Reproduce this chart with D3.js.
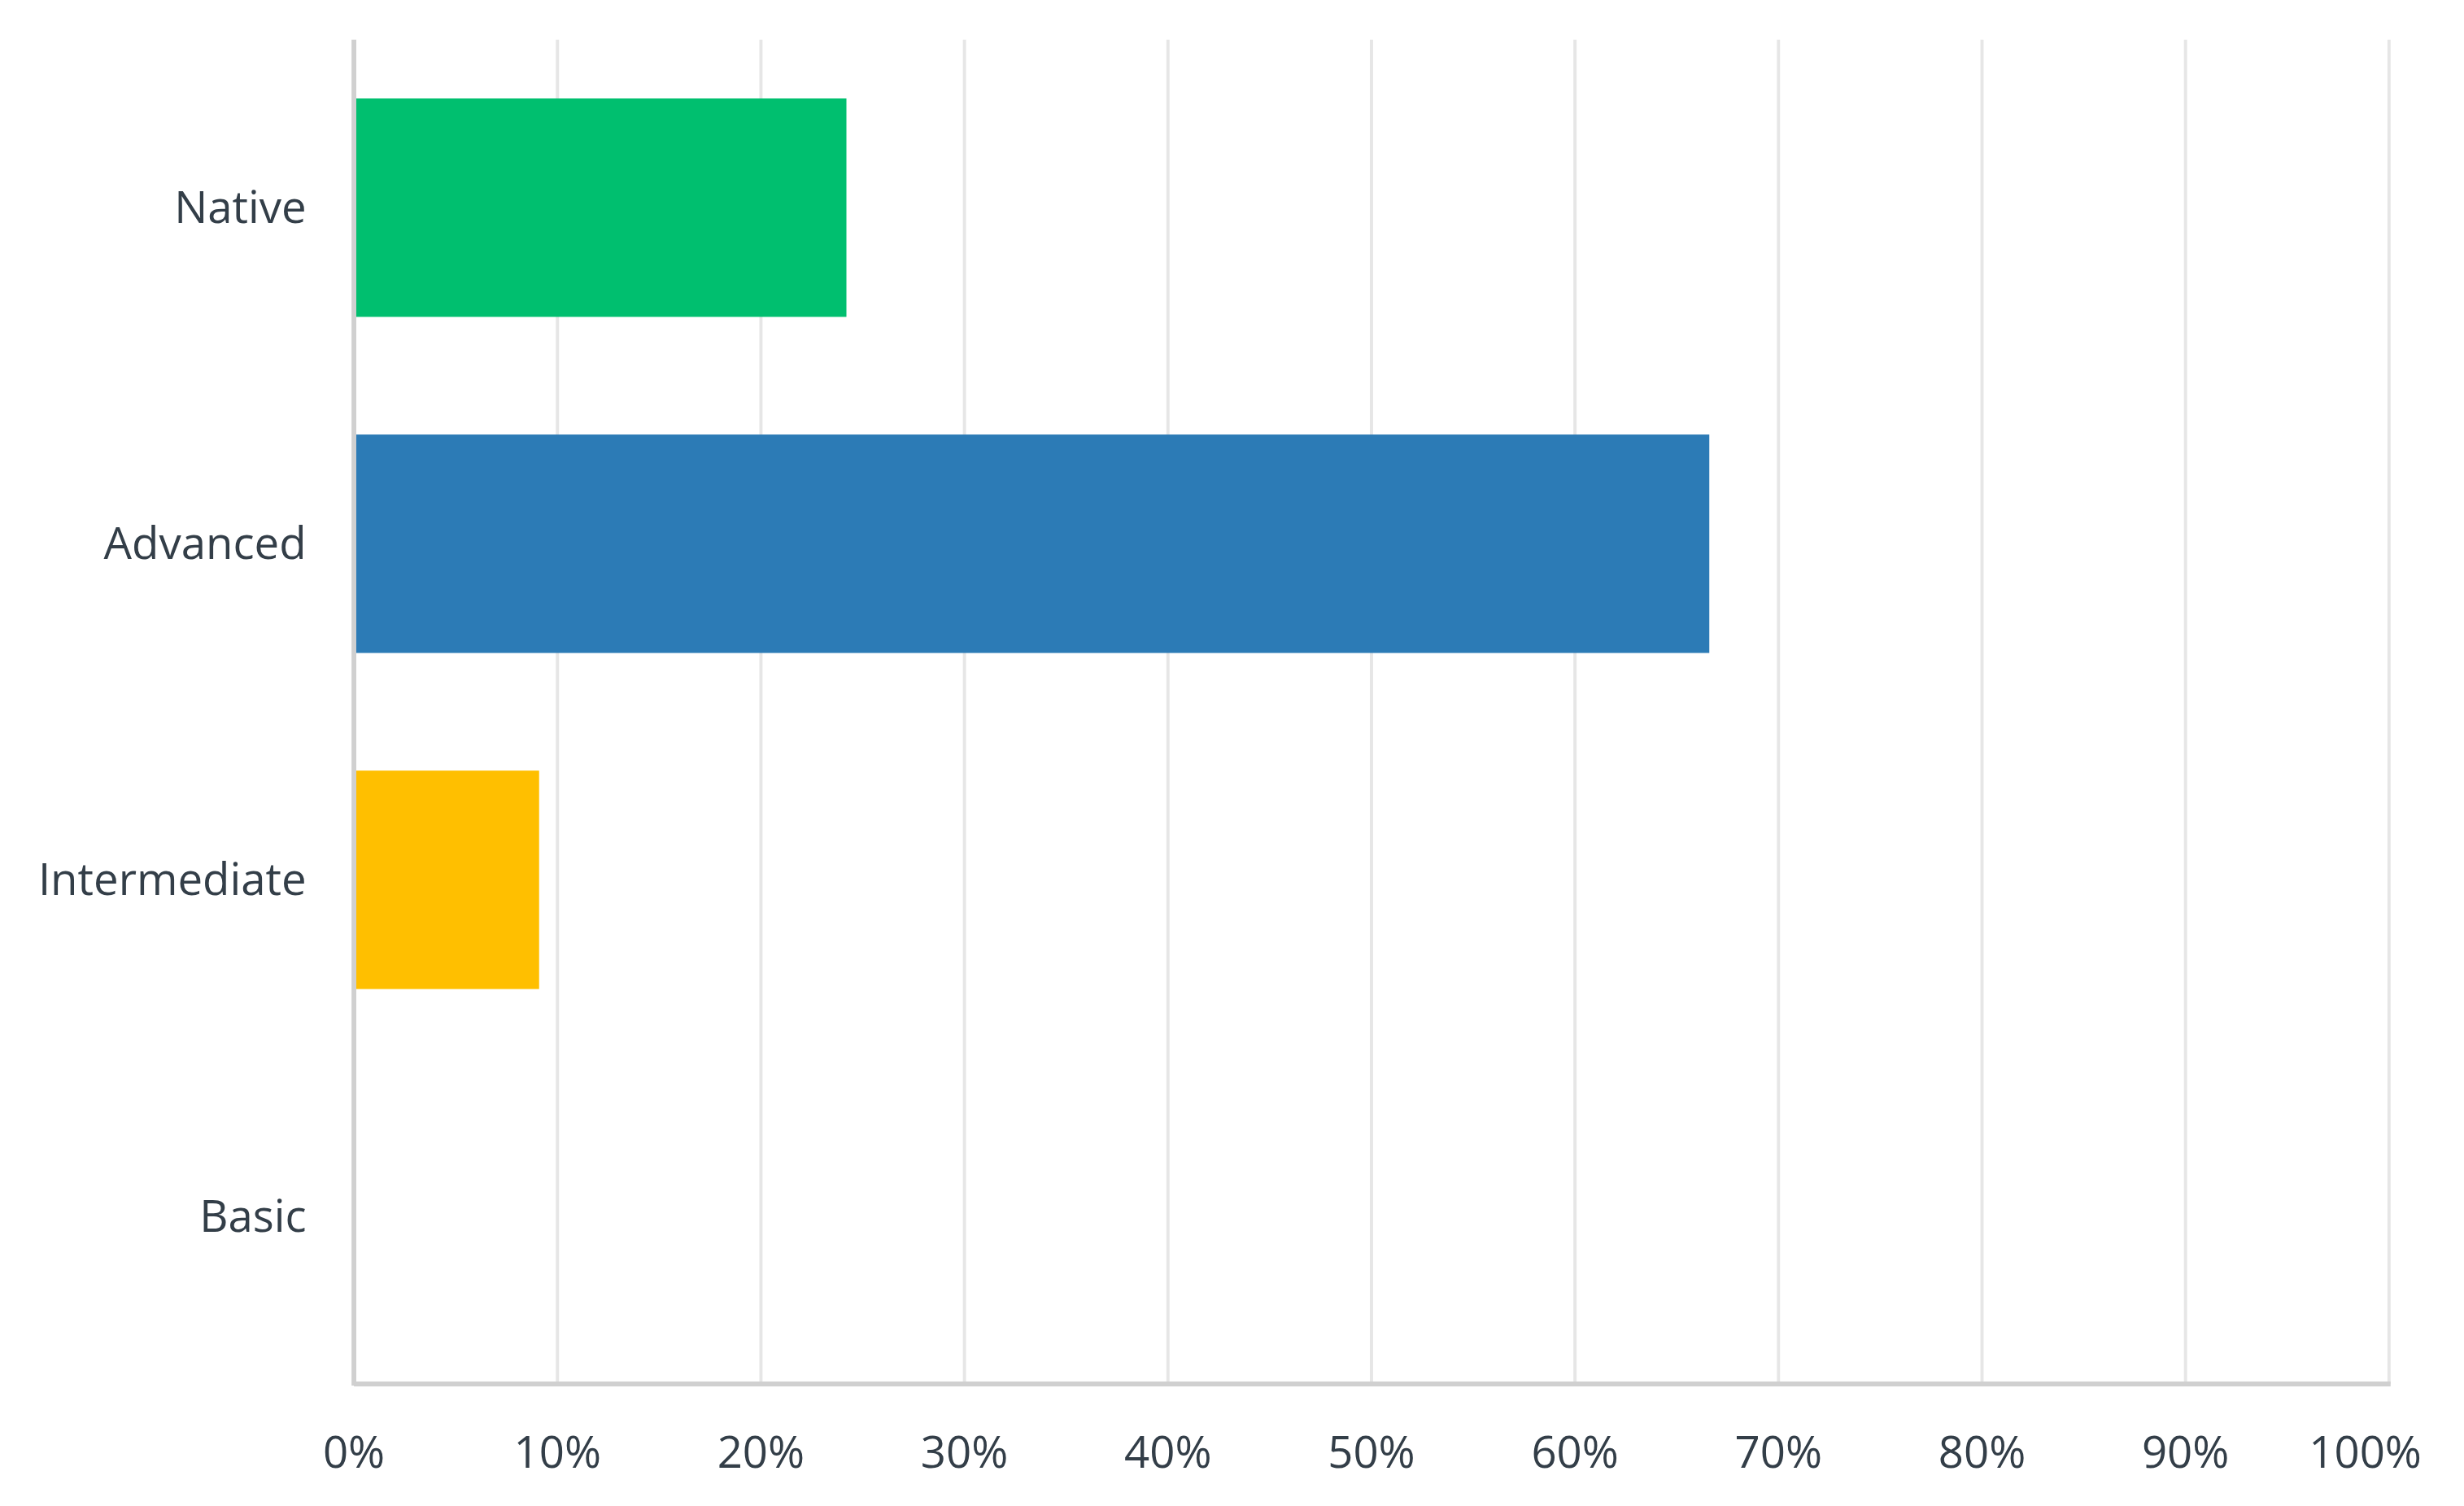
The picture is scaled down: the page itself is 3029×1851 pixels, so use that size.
<!DOCTYPE html>
<html>
<head>
<meta charset="utf-8">
<script src="https://cdn.jsdelivr.net/npm/d3@7"></script>
<style>
  body { margin: 0; background: #fff; }
  text { font-family: "Open Sans", sans-serif; fill: #333e48; }
</style>
</head>
<body>
<svg id="chart" width="3029" height="1851" viewBox="0 0 1554 950"></svg>
<script>
// chart values
const categories = ["Native", "Advanced", "Intermediate", "Basic"];
const values = [24.2, 66.6, 9.1, 0];
const colors = ["#00bf6f", "#2c7bb6", "#ffbf00", "#999999"];
const ticks = [0, 10, 20, 30, 40, 50, 60, 70, 80, 90, 100];

const svg = d3.select("#chart");
const plotLeft = 223, plotRight = 1507, plotTop = 25, plotBottom = 873;

const x = d3.scaleLinear().domain([0, 100]).range([plotLeft, plotRight]);
const y = d3.scaleBand().domain(categories).range([plotTop, plotBottom]).paddingInner(0.35).paddingOuter(0.175);

// gridlines
svg.selectAll("line.grid")
  .data(ticks.slice(1))
  .join("line")
  .attr("x1", d => x(d)).attr("x2", d => x(d))
  .attr("y1", plotTop).attr("y2", plotBottom)
  .attr("stroke", "#e6e6e6").attr("stroke-width", 2);

// bars
svg.selectAll("rect.bar")
  .data(categories)
  .join("rect")
  .attr("x", x(0))
  .attr("y", d => y(d))
  .attr("width", (d, i) => x(values[i]) - x(0))
  .attr("height", y.bandwidth())
  .attr("fill", (d, i) => colors[i]);

// axes lines
svg.append("line").attr("x1", plotLeft).attr("x2", plotLeft).attr("y1", plotTop).attr("y2", plotBottom + 1)
  .attr("stroke", "#d0d0d0").attr("stroke-width", 3);
svg.append("line").attr("x1", plotLeft).attr("x2", plotRight + 1).attr("y1", plotBottom).attr("y2", plotBottom)
  .attr("stroke", "#d0d0d0").attr("stroke-width", 3);

// category labels
svg.selectAll("text.cat")
  .data(categories)
  .join("text")
  .attr("x", 193)
  .attr("y", d => y(d) + y.bandwidth() / 2)
  .attr("dy", "0.35em")
  .attr("text-anchor", "end")
  .attr("font-size", 28)
  .text(d => d);

// tick labels
svg.selectAll("text.tick")
  .data(ticks)
  .join("text")
  .attr("x", d => x(d) + (d === 100 ? -15 : 0))
  .attr("y", 916)
  .attr("dy", "0.35em")
  .attr("text-anchor", "middle")
  .attr("font-size", 28)
  .text(d => d + "%");
</script>
</body>
</html>
